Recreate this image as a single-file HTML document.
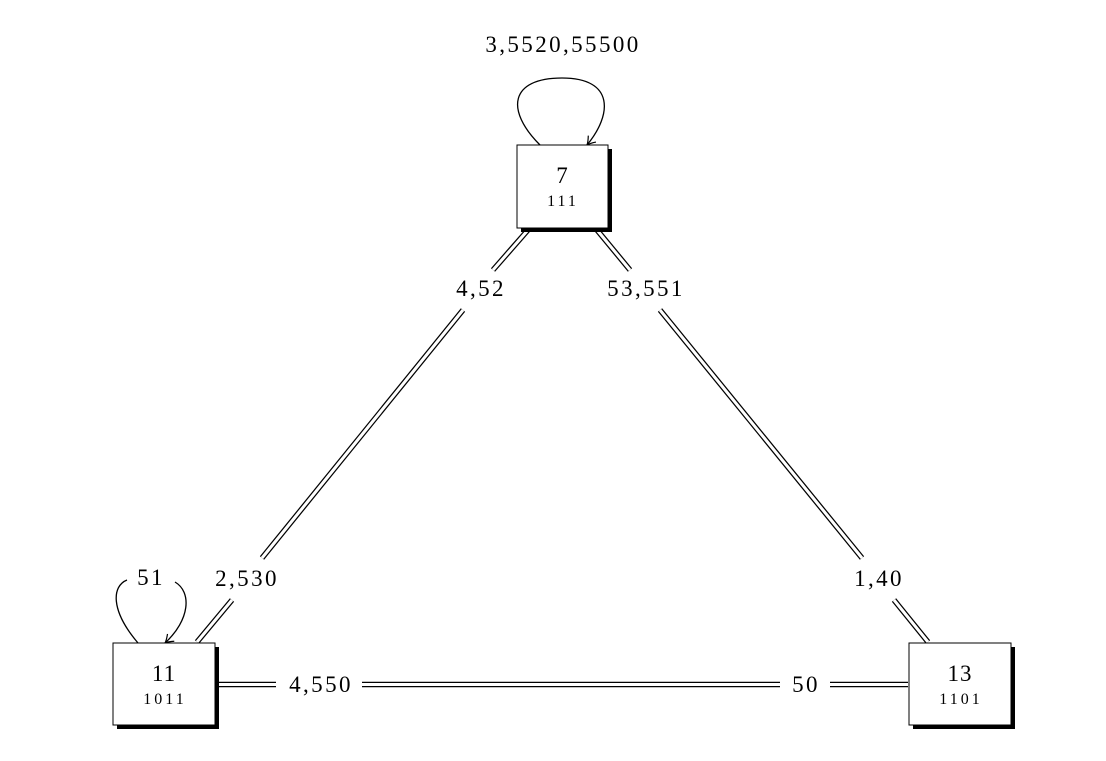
<!DOCTYPE html>
<html><head><meta charset="utf-8"><style>
html,body{margin:0;padding:0;background:#fff;}
text{font-family:"Liberation Serif","DejaVu Serif",serif;fill:#000;}
</style></head><body>
<svg width="1106" height="756" viewBox="0 0 1106 756">
<defs>
<marker id="arr" markerWidth="12" markerHeight="12" refX="9" refY="6" orient="auto" markerUnits="userSpaceOnUse">
<path d="M1,1 Q6,5 9,6 Q6,7 1,11" fill="none" stroke="#000" stroke-width="1.2"/>
</marker>
</defs>
<g>
<g stroke="#000" stroke-width="5.5" fill="none">
<line x1="528" y1="230" x2="493" y2="270"/><line x1="463" y1="310" x2="262" y2="558"/><line x1="232" y1="600" x2="197" y2="642"/></g>
<g stroke="#fff" stroke-width="3" fill="none">
<line x1="528" y1="230" x2="493" y2="270"/><line x1="463" y1="310" x2="262" y2="558"/><line x1="232" y1="600" x2="197" y2="642"/></g>
</g>
<g>
<g stroke="#000" stroke-width="5.5" fill="none">
<line x1="597" y1="230" x2="630" y2="270"/><line x1="660" y1="310" x2="862" y2="558"/><line x1="894" y1="600" x2="928" y2="642"/></g>
<g stroke="#fff" stroke-width="3" fill="none">
<line x1="597" y1="230" x2="630" y2="270"/><line x1="660" y1="310" x2="862" y2="558"/><line x1="894" y1="600" x2="928" y2="642"/></g>
</g>
<g>
<g stroke="#000" stroke-width="5.5" fill="none">
<line x1="218" y1="684.5" x2="276" y2="684.5"/><line x1="362" y1="684.5" x2="780" y2="684.5"/><line x1="830" y1="684.5" x2="908" y2="684.5"/></g>
<g stroke="#fff" stroke-width="3" fill="none">
<line x1="218" y1="684.5" x2="276" y2="684.5"/><line x1="362" y1="684.5" x2="780" y2="684.5"/><line x1="830" y1="684.5" x2="908" y2="684.5"/></g>
</g>
<path d="M540,145 C505,110 510,78 562,78 C615,78 612,115 587,145" fill="none" stroke="#000" stroke-width="1.3" marker-end="url(#arr)"/>
<path d="M138,643 C110,610 112,586 127,580" fill="none" stroke="#000" stroke-width="1.3"/>
<path d="M175,582 C192,592 190,620 165,643" fill="none" stroke="#000" stroke-width="1.3" marker-end="url(#arr)"/>
<g>
<rect x="521" y="149" width="91" height="83" fill="#000"/>
<rect x="517" y="145" width="91" height="83" fill="#fff" stroke="#000" stroke-width="1"/>
<text x="562" y="183" font-size="23" text-anchor="middle">7</text>
<text x="563" y="206" font-size="16" text-anchor="middle" letter-spacing="3">111</text>
</g>
<g>
<rect x="117" y="647" width="102" height="82" fill="#000"/>
<rect x="113" y="643" width="102" height="82" fill="#fff" stroke="#000" stroke-width="1"/>
<text x="164" y="681" font-size="23" text-anchor="middle" letter-spacing="1">11</text>
<text x="165" y="704" font-size="16" text-anchor="middle" letter-spacing="3">1011</text>
</g>
<g>
<rect x="913" y="647" width="102" height="82" fill="#000"/>
<rect x="909" y="643" width="102" height="82" fill="#fff" stroke="#000" stroke-width="1"/>
<text x="960" y="681" font-size="23" text-anchor="middle" letter-spacing="1">13</text>
<text x="961" y="704" font-size="16" text-anchor="middle" letter-spacing="3">1101</text>
</g>
<g font-size="23" text-anchor="middle" letter-spacing="2.4">
<text x="563" y="52">3,5520,55500</text>
<text x="151" y="585">51</text>
<text x="481" y="296">4,52</text>
<text x="247" y="586">2,530</text>
<text x="646" y="296">53,551</text>
<text x="879" y="586">1,40</text>
<text x="321" y="692">4,550</text>
<text x="806" y="692">50</text>
</g>
</svg>
</body></html>
